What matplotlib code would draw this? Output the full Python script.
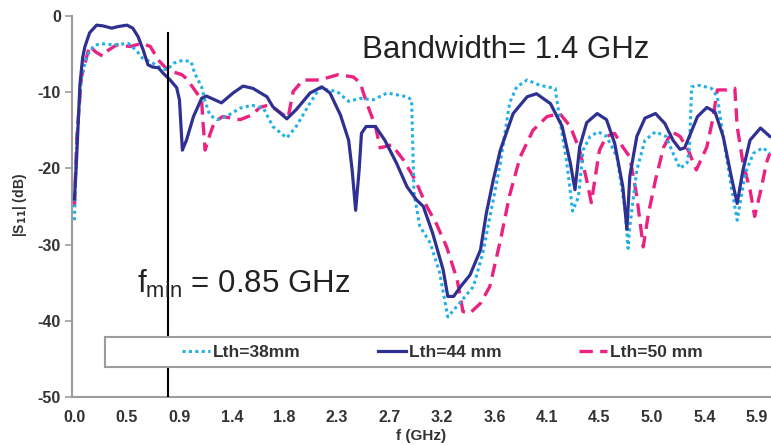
import matplotlib
matplotlib.use("Agg")
import matplotlib.pyplot as plt
from matplotlib.patches import Rectangle

# ---------------- data ----------------
tick_pos = [0.0, 0.45, 0.9, 1.35, 1.8, 2.25, 2.7, 3.15, 3.6, 4.05, 4.5, 4.95, 5.4, 5.85]
tick_labels = ["0.0", "0.5", "0.9", "1.4", "1.8", "2.3", "2.7", "3.2", "3.6", "4.1", "4.5", "5.0", "5.4", "5.9"]
y_ticks = [0, -10, -20, -30, -40, -50]

f38 = [0.0, 0.02, 0.06, 0.105, 0.16, 0.22, 0.33, 0.46, 0.53, 0.58, 0.65, 0.73, 0.79, 0.85, 0.93, 1.0,
       1.03, 1.09, 1.12, 1.16, 1.22, 1.30, 1.42, 1.52, 1.62, 1.70, 1.82, 1.90, 2.02, 2.10, 2.25, 2.35,
       2.45, 2.56, 2.68, 2.85, 2.89, 2.91, 2.96, 3.05, 3.13, 3.20, 3.30, 3.42, 3.50, 3.59, 3.65, 3.73,
       3.79, 3.88, 3.99, 4.12, 4.16, 4.22, 4.27, 4.32, 4.36, 4.42, 4.49, 4.56, 4.65, 4.72, 4.745, 4.76,
       4.82, 4.89, 4.98, 5.07, 5.13, 5.19, 5.25, 5.27, 5.29, 5.36, 5.46, 5.51, 5.56, 5.62, 5.68, 5.75,
       5.82, 5.90, 5.96]
s38 = [-26.8, -16.0, -8.0, -5.3, -4.0, -3.6, -3.8, -3.6, -4.5, -5.5, -6.0, -6.7, -7.1, -6.2, -5.8, -6.0,
       -7.5, -9.3, -11.2, -13.0, -13.6, -13.2, -12.1, -11.7, -12.1, -14.5, -16.0, -14.5, -11.4, -9.5, -9.9, -11.2,
       -10.8, -11.0, -10.1, -10.6, -11.0, -23.2, -27.6, -29.8, -33.7, -39.5, -37.7, -35.5, -31.1, -24.1, -19.3, -11.4,
       -9.3, -8.4, -9.1, -9.5, -13.6, -19.3, -25.6, -23.7, -17.6, -15.8, -15.2, -15.8, -18.5, -25.5, -30.5, -27.6,
       -20.2, -16.3, -15.2, -15.8, -18.0, -20.0, -19.3, -17.6, -9.3, -9.1, -9.5, -10.6, -15.8, -21.5, -26.8, -20.6,
       -18.0, -17.3, -18.0]

f44 = [0.0, 0.019, 0.047, 0.07, 0.09, 0.13, 0.19, 0.245, 0.32, 0.37, 0.45, 0.50, 0.545, 0.59, 0.63, 0.67,
       0.72, 0.76, 0.82, 0.876, 0.90, 0.925, 0.96, 1.02, 1.09, 1.13, 1.26, 1.36, 1.445, 1.53, 1.65, 1.70,
       1.82, 1.90, 2.02, 2.12, 2.19, 2.28, 2.35, 2.38, 2.41, 2.44, 2.46, 2.50, 2.58, 2.66, 2.76, 2.85,
       2.93, 2.99, 3.07, 3.16, 3.20, 3.25, 3.31, 3.39, 3.48, 3.53, 3.59, 3.65, 3.76, 3.88, 3.96, 4.08,
       4.18, 4.25, 4.29, 4.33, 4.39, 4.48, 4.56, 4.63, 4.70, 4.735, 4.76, 4.82, 4.89, 4.98, 5.06, 5.13,
       5.19, 5.23, 5.27, 5.34, 5.42, 5.49, 5.56, 5.63, 5.68, 5.73, 5.79, 5.88, 5.96]
s44 = [-24.0, -18.5, -9.0, -5.5, -4.0, -2.2, -1.2, -1.3, -1.6, -1.4, -1.2, -1.6, -2.7, -4.5, -6.4, -6.7,
       -6.8, -7.5, -8.4, -9.4, -11.0, -17.6, -16.3, -13.2, -10.8, -10.5, -11.4, -10.1, -9.2, -9.5, -10.6, -11.9,
       -13.5, -12.3, -10.1, -9.3, -10.1, -13.0, -16.3, -20.2, -25.5, -20.2, -15.4, -14.5, -14.5, -16.3, -19.3, -22.4,
       -24.1, -25.0, -28.5, -33.3, -36.8, -36.8, -35.5, -34.0, -30.7, -25.9, -21.5, -17.6, -12.8, -10.6, -10.2, -11.5,
       -14.5, -19.3, -22.8, -17.2, -14.0, -12.8, -13.6, -16.7, -22.4, -28.0, -21.0, -15.8, -13.4, -12.8, -14.1, -16.3,
       -17.5, -17.3, -15.8, -13.2, -12.0, -12.6, -15.8, -21.1, -24.6, -20.2, -16.3, -14.7, -15.8]

f50 = [0.0, 0.02, 0.06, 0.13, 0.18, 0.245, 0.29, 0.36, 0.475, 0.58, 0.65, 0.72, 0.80, 0.92, 0.96, 1.03,
       1.09, 1.10, 1.12, 1.16, 1.20, 1.27, 1.42, 1.52, 1.59, 1.66, 1.73, 1.83, 1.875, 1.96, 2.10, 2.26,
       2.39, 2.45, 2.50, 2.58, 2.62, 2.72, 2.82, 2.92, 3.02, 3.10, 3.19, 3.28, 3.33, 3.39, 3.48, 3.56,
       3.65, 3.73, 3.82, 3.93, 4.05, 4.16, 4.25, 4.33, 4.39, 4.43, 4.46, 4.50, 4.56, 4.63, 4.70, 4.76,
       4.82, 4.875, 4.92, 4.98, 5.05, 5.12, 5.19, 5.26, 5.33, 5.42, 5.47, 5.51, 5.59, 5.66, 5.68, 5.73,
       5.79, 5.83, 5.89, 5.93, 5.96]
s50 = [-25.0, -16.0, -8.0, -3.9, -4.7, -5.3, -4.5, -3.8, -4.0, -3.6, -4.0, -5.8, -7.1, -7.7, -8.2, -9.7,
       -11.0, -13.6, -17.6, -15.6, -13.9, -13.2, -13.6, -13.0, -12.0, -11.7, -12.3, -13.4, -9.9, -8.4, -8.4, -7.7,
       -8.0, -8.8, -11.2, -14.5, -17.3, -16.9, -18.9, -21.5, -25.0, -27.2, -30.3, -34.6, -38.8, -39.0, -37.7, -35.5,
       -29.5, -23.5, -18.5, -15.0, -13.2, -12.8, -14.5, -17.6, -21.5, -24.5, -21.5, -17.6, -15.8, -15.4, -17.2, -18.5,
       -23.7, -30.3, -25.9, -21.5, -17.2, -15.2, -15.8, -17.6, -20.2, -17.2, -13.6, -9.7, -9.7, -9.5, -14.5, -19.3,
       -22.8, -26.3, -22.4, -19.3, -18.0]

labels = ["Lth=38mm", "Lth=44 mm", "Lth=50 mm"]
fmin_line = 0.80
bw_text = "Bandwidth= 1.4 GHz"
fmin_text = r"$\mathregular{f_{min}}$ = 0.85 GHz"

# ---------------- style ----------------
plt.rcParams['font.family'] = ['Liberation Sans', 'DejaVu Sans']
plt.rcParams['mathtext.fontset'] = 'custom'
plt.rcParams['mathtext.rm'] = 'Liberation Sans'

c38 = '#22b1e6'
c44 = '#2e3192'
c50 = '#ec2282'

W, H = 771, 445
fig = plt.figure(figsize=(W / 100, H / 100), dpi=100)
ax = fig.add_axes([72 / W, (H - 397) / H, (W - 72) / W, (397 - 16) / H])

ax.plot(f38, s38, color=c38, lw=2.2, linestyle=(0, (1, 1.1)), label=labels[0], zorder=3)
ax.plot(f44, s44, color=c44, lw=2.3, linestyle='-', solid_joinstyle='round', label=labels[1], zorder=4)
ax.plot(f50, s50, color=c50, lw=2.4, linestyle=(0, (4, 2.2)), label=labels[2], zorder=2)

ax.axvline(fmin_line, ymin=0, ymax=0.955, color='black', lw=1.5, zorder=5)

ax.set_xlim(-0.021, 5.97)
ax.set_ylim(-50, 0)
ax.set_xticks(tick_pos)
ax.set_xticklabels(tick_labels)
ax.set_yticks(y_ticks)
ax.set_yticklabels([str(v) for v in y_ticks])

for sp in ['top', 'right']:
    ax.spines[sp].set_visible(False)
for sp in ['left', 'bottom']:
    ax.spines[sp].set_color('#9c9c9c')
    ax.spines[sp].set_linewidth(1.5)

ax.tick_params(axis='x', length=0, pad=9, labelsize=11.5, labelcolor='#333333')
ax.tick_params(axis='y', length=5, width=1.2, color='#9c9c9c', pad=3, labelsize=11.5, labelcolor='#333333')
for t in ax.get_xticklabels() + ax.get_yticklabels():
    t.set_fontweight('bold')

fig.text(20 / W, 1 - 205 / H, r"|S$_{\mathbf{11}}$| (dB)", rotation=90, ha='center', va='center',
         fontsize=10, fontweight='bold', color='#333333')
fig.text(421 / W, 1 - 436 / H, "f (GHz)", ha='center', va='center',
         fontsize=11, fontweight='bold', color='#333333')

fig.text(362 / W, 1 - 58 / H, bw_text, ha='left', va='baseline', fontsize=22.5, color='#222222')
fig.text(137 / W, 1 - 293 / H, fmin_text, ha='left', va='baseline', fontsize=22.5, color='#222222')

# legend frame
fig.add_artist(Rectangle((105 / W, (H - 367) / H), (800 - 105) / W, 30 / H, transform=fig.transFigure,
                         facecolor='white', edgecolor='#9c9c9c', lw=1.5, zorder=1))
handles, lbls = ax.get_legend_handles_labels()
leg = fig.legend(handles, lbls, ncol=3, loc='center left', bbox_to_anchor=(182 / W, 1 - 352 / H),
                 bbox_transform=fig.transFigure, frameon=False, borderpad=0, borderaxespad=0,
                 handlelength=1.6, handletextpad=0.15, columnspacing=4.5,
                 prop={'weight': 'bold', 'size': 12.5})
for t in leg.get_texts():
    t.set_color('#333333')
leg.set_zorder(6)

fig.savefig("out.png", dpi=100)
